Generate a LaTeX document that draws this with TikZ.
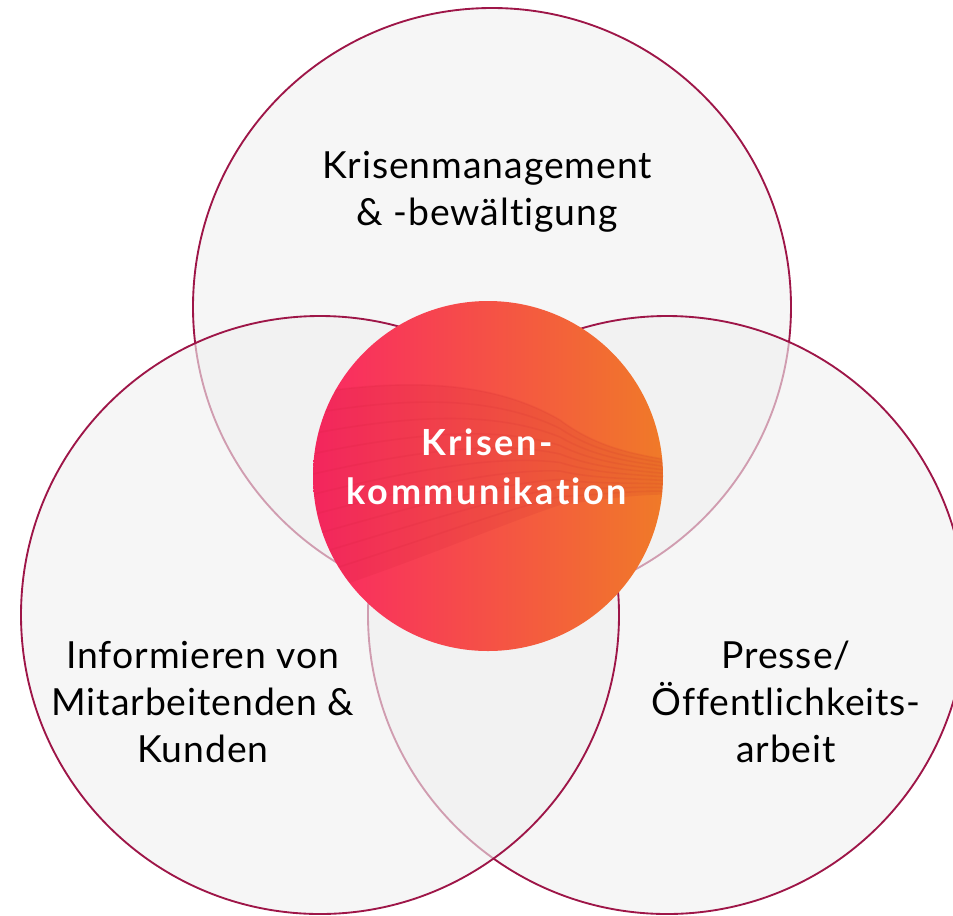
\documentclass[tikz,border=0pt]{standalone}
\usepackage{fontspec}
\setmainfont[Ligatures=NoCommon]{Lato}
\definecolor{ringred}{RGB}{158,22,72}
\definecolor{ringfill}{RGB}{240,240,240}
\definecolor{hotpink}{RGB}{250,40,100}
\definecolor{hotred}{RGB}{255,58,72}
\definecolor{hotorange}{RGB}{240,122,40}
\definecolor{waveshade}{RGB}{190,20,40}
\begin{document}
\begin{tikzpicture}[x=0.75pt,y=0.75pt,yscale=-1,xscale=1,
  ring/.style={draw=ringred, line width=1.4pt, fill=ringfill, fill opacity=0.62},
  ringlabel/.style={align=center, font=\addfontfeatures{LetterSpace=2.5}\fontsize{28}{35.5}\selectfont, text=black, inner sep=0pt},
  corelabel/.style={align=center, font=\bfseries\addfontfeatures{LetterSpace=7}\fontsize{27}{37}\selectfont, text=white, inner sep=0pt}]
\useasboundingbox (0,0) rectangle (953,915);

%Shape: Circle [top]
\draw [ring] (492,307) circle (299);
%Shape: Circle [right]
\draw [ring] (667,615) circle (299);
%Shape: Circle [left]
\draw [ring] (320,615) circle (299);

%Shape: Circle [core] with gradient and waves
\begin{scope}
\clip (488,476) circle (175);
\shade [left color=hotpink, middle color=hotred, right color=hotorange] (313,301) rectangle (663,651);
\fill [waveshade, opacity=0.10] (300,395) .. controls (420,375) and (500,385) .. (560,420) .. controls (600,450) and (640,455) .. (680,462) -- (680,495) .. controls (640,493) and (600,500) .. (560,505) .. controls (500,525) and (420,560) .. (300,600) -- cycle ;
\foreach \t in {0,0.1,...,1.0} {
  \draw [waveshade, opacity=0.09, line width=1.2pt] ({300},{395+205*\t}) .. controls ({420},{375+185*\t}) and ({500},{385+140*\t}) .. ({560},{420+85*\t}) .. controls ({600},{450+50*\t}) and ({640},{455+38*\t}) .. ({680},{462+33*\t}) ;
}
\end{scope}

%Text
\node [ringlabel] (mgmt) at (487,192) {Krisenmanagement\\\& -bewältigung};
\node [ringlabel] (info) at (203,702) {Informieren von\\Mitarbeitenden \&\\Kunden};
\node [ringlabel] (press) at (786,702) {Presse/\\Öffentlichkeits-\\arbeit};
\node [corelabel] (core) at (487,467) {Krisen-\\kommunikation};
\end{tikzpicture}
\end{document}
